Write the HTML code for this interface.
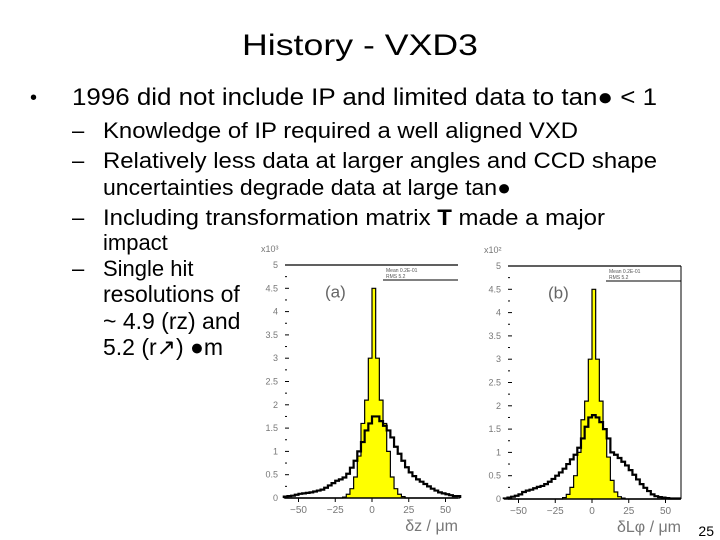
<!DOCTYPE html>
<html><head><meta charset="utf-8"><style>
html,body{margin:0;padding:0;background:#fff;}
svg{display:block;}
text{font-family:"Liberation Sans",sans-serif;}
</style></head><body>
<svg id="s" width="720" height="540" viewBox="0 0 720 540">
<text x="360" y="55" font-size="30" text-anchor="middle" textLength="236" lengthAdjust="spacingAndGlyphs">History - VXD3</text>
<text x="30" y="104" font-size="20">•</text>
<text x="72" y="105" font-size="24" textLength="585" lengthAdjust="spacingAndGlyphs">1996 did not include IP and limited data to tan● &lt; 1</text>
<g font-size="22">
<text x="72" y="138">–</text>
<text x="103" y="138" textLength="475" lengthAdjust="spacingAndGlyphs">Knowledge of IP required a well aligned VXD</text>
<text x="72" y="168">–</text>
<text x="103" y="168" textLength="554" lengthAdjust="spacingAndGlyphs">Relatively less data at larger angles and CCD shape</text>
<text x="103" y="195" textLength="408" lengthAdjust="spacingAndGlyphs">uncertainties degrade data at large tan●</text>
<text x="72" y="225">–</text>
<text x="103" y="225" textLength="502" lengthAdjust="spacingAndGlyphs">Including transformation matrix <tspan font-weight="bold">T</tspan> made a major</text>
<text x="103" y="250">impact</text>
<text x="72" y="276">–</text>
<text x="103" y="276">Single hit</text>
<text x="103" y="302" font-size="23">resolutions of</text>
<text x="103" y="329" font-size="23">~ 4.9 (rz) and</text>
<text x="103" y="355" font-size="23">5.2 (r↗) ●m</text>
</g>
<text x="714" y="536" font-size="14" text-anchor="end">25</text>
</svg>
<script>
const binStart = -60;
const binWidth = 2.5;
const broadA = [0.03,0.04,0.05,0.07,0.09,0.1,0.11,0.12,0.14,0.16,0.18,0.22,0.27,0.32,0.37,0.4,0.44,0.52,0.65,0.8,1.0,1.2,1.45,1.6,1.75,1.75,1.65,1.55,1.45,1.3,1.1,0.95,0.8,0.66,0.55,0.47,0.4,0.35,0.3,0.25,0.2,0.16,0.12,0.1,0.08,0.06,0.04,0.04];
const narrowA = [0,0,0,0,0,0,0,0,0,0,0,0,0,0,0,0,0.02,0.08,0.2,0.45,0.9,1.6,2.1,3.0,4.5,3.0,2.1,1.6,1.0,0.45,0.2,0.08,0.03,0,0,0,0,0,0,0,0,0,0,0,0,0,0,0];
const broadB = [0.01,0.03,0.05,0.07,0.1,0.15,0.18,0.2,0.23,0.26,0.28,0.32,0.37,0.43,0.5,0.57,0.65,0.75,0.85,0.95,1.1,1.3,1.55,1.75,1.8,1.75,1.65,1.5,1.3,1.0,0.95,0.88,0.8,0.72,0.62,0.52,0.42,0.32,0.24,0.17,0.1,0.06,0.04,0.03,0.02,0.01,0.01,0.01];
const narrowB = [0,0,0,0,0,0,0,0,0,0,0,0,0,0,0,0,0.03,0.1,0.25,0.5,1.0,1.7,2.1,3.0,4.5,3.0,2.1,1.5,0.9,0.4,0.15,0.05,0.02,0,0,0,0,0,0,0,0,0,0,0,0,0,0,0];
const yTicks = ["0","0.5","1","1.5","2","2.5","3","3.5","4","4.5","5"];
const xTicks = [-50,-25,0,25,50];

const NS="http://www.w3.org/2000/svg";
const svg=document.getElementById('s');
function mk(tag,attrs,parent){const e=document.createElementNS(NS,tag);for(const k in attrs)e.setAttribute(k,attrs[k]);(parent||svg).appendChild(e);return e;}

function panel(cfg){
  const g=mk('g',{});
  
  
  const X=v=>cfg.x0+v*cfg.sx, Y=v=>cfg.y0-v*cfg.sy;
  function pathOf(arr){
    let d='M'+X(binStart)+','+Y(0);
    arr.forEach((v,i)=>{const a=X(binStart+i*binWidth),b=X(binStart+(i+1)*binWidth);d+=' L'+a+','+Y(v)+' L'+b+','+Y(v);});
    d+=' L'+X(binStart+arr.length*binWidth)+','+Y(0);
    return d;
  }
  const fill=mk('path',{d:pathOf(cfg.narrow)+' Z',fill:'#ffff00',stroke:'none'},g);
  
  
  const nl=mk('path',{d:pathOf(cfg.narrow),fill:'none',stroke:'#000','stroke-width':1.2},g);
  
  
  const bl=mk('path',{d:pathOf(cfg.broad),fill:'none',stroke:'#000','stroke-width':2.2},g);
  
  
  mk('line',{x1:cfg.left,x2:cfg.right,y1:Y(0),y2:Y(0),stroke:'#000','stroke-width':1.5},g);
  mk('line',{x1:cfg.left,x2:cfg.right,y1:Y(5),y2:Y(5),stroke:'#000','stroke-width':1.2},g);
  if(cfg.box){mk('line',{x1:cfg.right,x2:cfg.right,y1:Y(5),y2:Y(0),stroke:'#000','stroke-width':1},g);}
  mk('line',{x1:cfg.right-75,x2:cfg.right,y1:Y(5)+15,y2:Y(5)+15,stroke:'#000','stroke-width':1},g);
  const st=mk('text',{x:cfg.right-72,y:Y(5)+7,'font-size':5,fill:'#555'},g);st.textContent='Mean        0.2E-01';
  const st2=mk('text',{x:cfg.right-72,y:Y(5)+13,'font-size':5,fill:'#555'},g);st2.textContent='RMS              5.2';
  yTicks.forEach((t,i)=>{const v=i*0.5;
    mk('line',{x1:cfg.left,x2:cfg.left+4,y1:Y(v),y2:Y(v),stroke:'#000','stroke-width':1},g);
    if(i<10)mk('line',{x1:cfg.left,x2:cfg.left+2,y1:Y(v+0.25),y2:Y(v+0.25),stroke:'#000','stroke-width':1},g);
    const tx=mk('text',{x:cfg.left-7,y:Y(v)+3,'font-size':9,fill:'#777','text-anchor':'end'},g);
    
    
    tx.textContent=t;});
  const ex=mk('text',{x:cfg.left-24,y:Y(5)-13,'font-size':9,fill:'#777'},g);ex.textContent=cfg.exp;
  
  
  xTicks.forEach(t=>{
    mk('line',{x1:X(t),x2:X(t),y1:Y(0),y2:Y(0)+4,stroke:'#000','stroke-width':1},g);
    const tx=mk('text',{x:X(t),y:Y(0)+15,'font-size':10,fill:'#777','text-anchor':'middle'},g);
    
    
    tx.textContent=t===0?'0':(t<0?'−'+(-t):String(t));});
  const lab=mk('text',{x:cfg.left+40,y:Y(4.3),'font-size':17,fill:'#666'},g);lab.textContent=cfg.label;
  
  
  const at=mk('text',{x:cfg.right,y:Y(0)+33,'font-size':16,fill:'#777','text-anchor':'end'},g);at.textContent=cfg.title;
  
  
}
panel({name:'histogram-a',x0:372,sx:1.47,y0:498,sy:46.6,left:285,right:458,narrow:narrowA,broad:broadA,label:'(a)',title:'δz / μm',exp:'x10³',box:false});
panel({name:'histogram-b',x0:592,sx:1.47,y0:499,sy:46.6,left:508,right:681,narrow:narrowB,broad:broadB,label:'(b)',title:'δLφ / μm',exp:'x10²',box:true});
</script>
</body></html>
